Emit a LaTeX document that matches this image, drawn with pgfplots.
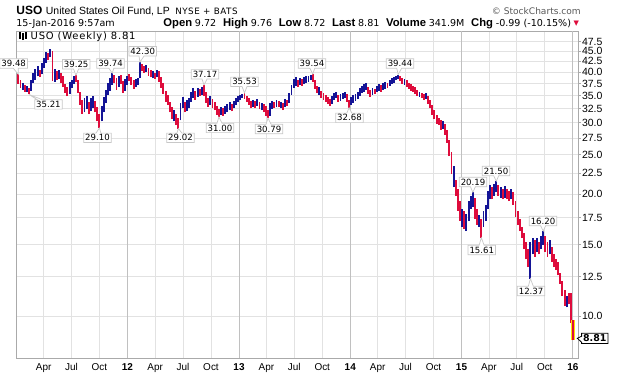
\documentclass[border=0pt]{standalone}
\usepackage{pgfplots}
\pgfplotsset{compat=1.18}
\usepackage{fontspec}
\setmainfont{Liberation Sans}
\newfontfamily\dv{DejaVu Sans}
\usetikzlibrary{shapes.callouts}
\definecolor{upc}{RGB}{20,20,150}
\definecolor{dnc}{RGB}{222,12,60}
\definecolor{gridl}{RGB}{226,226,226}
\definecolor{gridy}{RGB}{192,192,192}
\definecolor{framec}{RGB}{170,170,170}
\definecolor{boxc}{RGB}{200,200,200}
\begin{document}
\begin{tikzpicture}[x=1bp,y=1bp]
\begin{axis}[
  at={(16bp,18bp)}, anchor=south west,
  scale only axis, width=562bp, height=327bp,
  xmin=-0.1, xmax=263.3,
  ymode=log, ymin=7.88, ymax=50.5,
  unbounded coords=jump, clip=false,
  axis line style={framec, line width=0.8bp},
  xtick={12.86,25.86,39.0,65.14,78.14,91.29,117.29,130.29,143.43,169.43,182.43,195.57,221.57,234.57,247.71},
  xticklabels={Apr,Jul,Oct,Apr,Jul,Oct,Apr,Jul,Oct,Apr,Jul,Oct,Apr,Jul,Oct},
  extra x ticks={52.14,104.43,156.57,208.71,260.86},
  extra x tick labels={\textbf{12},\textbf{13},\textbf{14},\textbf{15},\textbf{16}},
  extra x tick style={grid style={gridy, line width=0.8bp}, xtick style={draw=none}},
  xtick style={draw=none},
  xmajorgrids, ymajorgrids,
  grid style={gridl, line width=0.8bp},
  xticklabel style={font=\fontsize{10}{12}\selectfont, yshift=-2bp},
  ytick={10,12.5,15,17.5,20,22.5,25,27.5,30,32.5,35,37.5,40,42.5,45,47.5},
  yticklabels={10.0,12.5,15.0,17.5,20.0,22.5,25.0,27.5,30.0,32.5,35.0,37.5,40.0,42.5,45.0,47.5},
  yminorticks=false,
  ytick pos=right, yticklabel pos=right,
  ytick style={framec, line width=0.6bp},
  ytick align=outside, major tick length=3bp,
  yticklabel style={font=\fontsize{10.5}{12}\selectfont, anchor=west, inner xsep=0.8bp},
]
% up weeks (blue)
\addplot[upc, line width=1.9bp, mark=none] coordinates {
(3,36.2)(3,37.6)(3,nan) (5,35.8)(5,37.0)(5,nan) (7,36.0)(7,38.2)(7,nan) (8,37.5)(8,39.8)(8,nan)
(9,38.2)(9,40.6)(9,nan) (10,39.0)(10,41.5)(10,nan) (12,39.5)(12,42.0)(12,nan) (13,41.0)(13,43.2)(13,nan)
(14,42.2)(14,44.8)(14,nan) (16,43.5)(16,45.6)(16,nan) (18,37.8)(18,40.8)(18,nan) (20,38.5)(20,40.5)(20,nan)
(25,35.4)(25,37.8)(25,nan) (26,36.6)(26,38.3)(26,nan) (27,37.4)(27,39.0)(27,nan) (32,31.8)(32,34.5)(32,nan)
(33,32.4)(33,34.9)(33,nan) (35,32.0)(35,34.6)(35,nan) (36,32.6)(36,35.0)(36,nan) (40,30.2)(40,33.0)(40,nan)
(41,31.8)(41,34.8)(41,nan) (42,33.5)(42,36.2)(42,nan) (43,35.2)(43,37.6)(43,nan) (44,36.0)(44,38.6)(44,nan)
(45,37.2)(45,39.74)(45,nan) (48,36.8)(48,39.0)(48,nan) (51,36.0)(51,38.4)(51,nan) (52,37.2)(52,39.0)(52,nan)
(56,36.8)(56,38.4)(56,nan) (57,37.2)(57,38.6)(57,nan) (58,38.6)(58,42.30)(58,nan) (61,40.0)(61,41.6)(61,nan)
(64,38.6)(64,40.2)(64,nan) (66,38.8)(66,40.5)(66,nan) (74,30.2)(74,32.2)(74,nan) (77,30.4)(77,33.6)(77,nan)
(78,32.6)(78,34.8)(78,nan) (80,32.0)(80,34.2)(80,nan) (81,32.6)(81,34.6)(81,nan) (82,33.8)(82,35.8)(82,nan)
(83,34.6)(83,36.5)(83,nan) (85,34.8)(85,36.6)(85,nan) (87,35.2)(87,36.8)(87,nan) (91,33.2)(91,35.0)(91,nan)
(96,31.4)(96,32.8)(96,nan) (98,31.6)(98,33.0)(98,nan) (99,31.8)(99,33.4)(99,nan) (100,32.2)(100,33.8)(100,nan)
(102,32.6)(102,34.0)(102,nan) (103,33.2)(103,34.6)(103,nan) (104,33.8)(104,35.0)(104,nan)
(105,34.2)(105,35.2)(105,nan) (106,34.6)(106,35.4)(106,nan) (111,32.8)(111,34.2)(111,nan) (113,33.0)(113,34.4)(113,nan)
(115,32.2)(115,33.6)(115,nan) (119,31.2)(119,33.6)(119,nan) (120,32.4)(120,34.0)(120,nan) (122,32.8)(122,34.2)(122,nan)
(124,32.6)(124,33.8)(124,nan) (126,32.8)(126,34.4)(126,nan) (128,33.6)(128,35.6)(128,nan) (129,35.2)(129,37.2)(129,nan)
(130,36.6)(130,38.4)(130,nan) (131,37.0)(131,38.8)(131,nan) (133,37.2)(133,38.6)(133,nan) (135,37.4)(135,38.8)(135,nan)
(136,37.6)(136,39.0)(136,nan) (137,37.8)(137,39.2)(137,nan) (138,38.2)(138,39.4)(138,nan) (142,35.2)(142,36.8)(142,nan)
(148,33.4)(148,35.0)(148,nan) (149,34.2)(149,35.6)(149,nan) (150,34.6)(150,35.8)(150,nan) (152,34.0)(152,35.4)(152,nan)
(153,34.4)(153,35.6)(153,nan) (154,34.6)(154,35.8)(154,nan)
(157,33.2)(157,34.8)(157,nan) (158,33.6)(158,35.2)(158,nan) (159,34.0)(159,35.4)(159,nan) (160,34.4)(160,35.8)(160,nan)
(161,35.0)(161,36.6)(161,nan) (162,35.6)(162,37.0)(162,nan) (163,35.8)(163,37.4)(163,nan) (164,36.2)(164,37.6)(164,nan)
(167,35.2)(167,36.6)(167,nan) (169,35.8)(169,37.0)(169,nan) (170,36.0)(170,37.4)(170,nan) (172,36.2)(172,37.6)(172,nan)
(173,36.4)(173,37.8)(173,nan) (175,37.0)(175,38.2)(175,nan) (176,37.4)(176,38.6)(176,nan) (177,37.6)(177,38.8)(177,nan)
(178,38.2)(178,39.2)(178,nan) (179,38.4)(179,39.44)(179,nan) (182,37.2)(182,38.4)(182,nan) (189,34.8)(189,35.8)(189,nan)
(192,34.4)(192,35.6)(192,nan) (200,29.0)(200,30.2)(200,nan) (205,20.8)(205,23.4)(205,nan)
(209,16.6)(209,18.4)(209,nan) (211,16.2)(211,17.9)(211,nan) (212,17.2)(212,19.2)(212,nan) (213,18.4)(213,19.8)(213,nan)
(214,18.6)(214,20.19)(214,nan) (217,16.6)(217,17.8)(217,nan) (219,16.6)(219,18.2)(219,nan) (220,17.2)(220,18.8)(220,nan)
(221,18.4)(221,20.4)(221,nan) (222,19.4)(222,21.0)(222,nan) (224,19.8)(224,21.2)(224,nan) (225,20.2)(225,21.50)(225,nan)
(227,19.6)(227,20.8)(227,nan) (229,19.6)(229,20.9)(229,nan) (232,19.4)(232,20.6)(232,nan) (241,12.37)(241,15.2)(241,nan)
(242,14.2)(242,15.6)(242,nan) (244,14.4)(244,15.6)(244,nan) (246,14.6)(246,15.8)(246,nan) (247,15.0)(247,16.20)(247,nan)
(250,14.2)(250,15.4)(250,nan) (258,10.5)(258,11.2)(258,nan)
};
% down weeks (red)
\addplot[dnc, line width=1.9bp, mark=none] coordinates {
(1,37.4)(1,39.48)(1,nan) (2,36.6)(2,38.3)(2,nan) (4,35.8)(4,37.2)(4,nan) (6,35.21)(6,36.6)(6,nan)
(11,38.8)(11,40.5)(11,nan) (15,42.8)(15,44.5)(15,nan) (17,38.0)(17,45.0)(17,nan) (19,38.2)(19,40.2)(19,nan)
(21,37.6)(21,39.8)(21,nan) (22,36.8)(22,39.0)(22,nan) (23,35.6)(23,37.4)(23,nan) (24,34.9)(24,36.8)(24,nan)
(28,37.8)(28,39.25)(28,nan) (29,35.5)(29,38.2)(29,nan) (30,33.2)(30,35.8)(30,nan) (31,31.6)(31,34.2)(31,nan)
(34,31.5)(34,33.8)(34,nan) (37,31.8)(37,34.0)(37,nan) (38,30.2)(38,32.8)(38,nan) (39,29.10)(39,31.6)(39,nan)
(46,37.6)(46,39.4)(46,nan) (47,36.2)(47,38.6)(47,nan) (49,37.4)(49,39.3)(49,nan) (50,35.6)(50,38.0)(50,nan)
(53,38.0)(53,39.5)(53,nan) (54,37.2)(54,38.8)(54,nan) (55,36.4)(55,38.2)(55,nan) (59,40.2)(59,41.9)(59,nan)
(60,39.8)(60,41.5)(60,nan) (62,39.2)(62,41.0)(62,nan) (63,38.8)(63,40.4)(63,nan) (65,38.5)(65,39.8)(65,nan)
(67,37.8)(67,40.2)(67,nan) (68,36.6)(68,38.8)(68,nan) (69,35.4)(69,37.6)(69,nan) (70,33.8)(70,36.0)(70,nan)
(71,33.2)(71,35.2)(71,nan) (72,31.8)(72,33.8)(72,nan) (73,30.6)(73,32.8)(73,nan) (75,29.6)(75,31.6)(75,nan)
(76,29.02)(76,30.8)(76,nan) (79,31.8)(79,33.8)(79,nan) (84,34.2)(84,36.0)(84,nan) (86,35.0)(86,36.4)(86,nan)
(88,35.0)(88,37.17)(88,nan) (89,33.6)(89,35.8)(89,nan) (90,32.8)(90,34.6)(90,nan) (92,32.6)(92,34.4)(92,nan)
(93,32.2)(93,33.8)(93,nan) (94,31.4)(94,33.0)(94,nan) (95,31.0)(95,32.4)(95,nan) (97,31.2)(97,32.6)(97,nan)
(101,32.0)(101,33.4)(101,nan)
(107,34.4)(107,35.53)(107,nan) (108,33.8)(108,35.0)(108,nan) (109,33.2)(109,34.6)(109,nan) (110,32.6)(110,34.0)(110,nan)
(112,32.6)(112,34.0)(112,nan) (114,32.4)(114,33.8)(114,nan) (116,31.8)(116,33.4)(116,nan) (117,31.2)(117,33.0)(117,nan)
(118,30.79)(118,32.2)(118,nan) (121,32.6)(121,33.8)(121,nan) (123,32.8)(123,34.0)(123,nan) (125,32.2)(125,33.6)(125,nan)
(127,33.0)(127,34.2)(127,nan) (132,36.8)(132,38.2)(132,nan) (134,37.0)(134,38.4)(134,nan) (139,37.8)(139,39.54)(139,nan)
(140,36.4)(140,38.2)(140,nan) (141,35.6)(141,37.0)(141,nan) (143,34.6)(143,36.0)(143,nan) (144,34.2)(144,35.6)(144,nan)
(145,33.8)(145,35.2)(145,nan) (146,33.4)(146,34.8)(146,nan) (147,33.0)(147,34.4)(147,nan) (151,33.8)(151,35.2)(151,nan)
(155,33.8)(155,35.4)(155,nan) (156,32.68)(156,34.2)(156,nan)
(165,35.4)(165,36.8)(165,nan) (166,34.8)(166,36.2)(166,nan) (168,35.4)(168,36.4)(168,nan) (171,35.8)(171,37.2)(171,nan)
(174,36.6)(174,37.6)(174,nan) (180,38.0)(180,39.2)(180,nan) (181,37.4)(181,38.6)(181,nan) (183,36.8)(183,38.2)(183,nan)
(184,36.4)(184,37.6)(184,nan) (185,36.0)(185,37.4)(185,nan) (186,35.8)(186,37.0)(186,nan) (187,35.4)(187,36.8)(187,nan)
(188,35.0)(188,36.2)(188,nan) (190,34.6)(190,35.6)(190,nan) (191,34.2)(191,35.4)(191,nan) (193,33.4)(193,35.0)(193,nan)
(194,32.6)(194,34.2)(194,nan) (195,31.4)(195,33.2)(195,nan) (196,30.6)(196,32.2)(196,nan) (197,29.8)(197,31.4)(197,nan)
(198,29.6)(198,30.8)(198,nan) (199,28.8)(199,30.4)(199,nan) (201,28.0)(201,29.8)(201,nan) (202,26.8)(202,28.8)(202,nan)
(203,24.8)(203,27.2)(203,nan) (204,22.4)(204,25.4)(204,nan) (206,19.8)(206,21.6)(206,nan) (207,18.2)(207,20.6)(207,nan)
(208,17.2)(208,19.2)(208,nan)
(210,16.4)(210,18.2)(210,nan) (215,17.4)(215,19.6)(215,nan) (216,16.8)(216,18.4)(216,nan) (218,15.61)(218,17.4)(218,nan)
(223,19.4)(223,20.8)(223,nan) (226,19.8)(226,21.0)(226,nan) (228,19.4)(228,20.6)(228,nan) (230,19.4)(230,20.6)(230,nan)
(231,19.2)(231,20.4)(231,nan) (233,18.8)(233,20.2)(233,nan) (234,17.6)(234,19.2)(234,nan) (235,16.8)(235,18.2)(235,nan)
(236,16.2)(236,17.4)(236,nan) (237,15.6)(237,16.6)(237,nan) (238,14.6)(238,16.0)(238,nan) (239,13.8)(239,15.2)(239,nan)
(240,13.2)(240,14.6)(240,nan) (243,14.0)(243,15.4)(243,nan) (245,14.2)(245,15.2)(245,nan) (248,14.4)(248,15.8)(248,nan)
(249,14.0)(249,15.2)(249,nan) (251,13.6)(251,14.8)(251,nan) (252,13.2)(252,14.2)(252,nan) (253,13.0)(253,13.8)(253,nan)
(254,12.6)(254,13.6)(254,nan) (255,12.0)(255,12.8)(255,nan) (256,11.2)(256,12.2)(256,nan) (257,10.6)(257,11.6)(257,nan)
(259,10.7)(259,11.4)(259,nan) (260,9.6)(260,11.4)(260,nan)
};
% last (current) week, highlighted
\addplot[yellow!85!orange, line width=3.8bp, mark=none] coordinates {(261,8.72)(261,9.76)};
\addplot[dnc, line width=1.7bp, mark=none] coordinates {(261,8.72)(261,9.76)};
% callouts
\tikzset{hl/.style={rectangle callout, draw=boxc, fill=white, line width=0.7bp,
   inner xsep=1.5bp, inner ysep=1.5bp, callout pointer width=5bp,
   font=\dv\fontsize{8.6}{10}\selectfont}}
\node[hl, callout absolute pointer={(axis cs:1,39.48)}] at (axis cs:-1.2,42.0) {39.48};
\node[hl, callout absolute pointer={(axis cs:6,35.21)}] at (axis cs:15.1,33.28) {35.21};
\node[hl, callout absolute pointer={(axis cs:28,39.25)}] at (axis cs:28.1,41.8) {39.25};
\node[hl, callout absolute pointer={(axis cs:39,29.10)}] at (axis cs:38.1,27.52) {29.10};
\node[hl, callout absolute pointer={(axis cs:45,39.74)}] at (axis cs:44.2,42.0) {39.74};
\node[hl, callout absolute pointer={(axis cs:58,42.30)}] at (axis cs:59.3,45.0) {42.30};
\node[hl, callout absolute pointer={(axis cs:76,29.02)}] at (axis cs:77.0,27.52) {29.02};
\node[hl, callout absolute pointer={(axis cs:88,37.17)}] at (axis cs:88.5,39.48) {37.17};
\node[hl, callout absolute pointer={(axis cs:95,31.00)}] at (axis cs:95.5,29.12) {31.00};
\node[hl, callout absolute pointer={(axis cs:107,35.53)}] at (axis cs:107,37.83) {35.53};
\node[hl, callout absolute pointer={(axis cs:118,30.79)}] at (axis cs:118.5,28.95) {30.79};
\node[hl, callout absolute pointer={(axis cs:139,39.54)}] at (axis cs:138.6,42.0) {39.54};
\node[hl, callout absolute pointer={(axis cs:156,32.68)}] at (axis cs:156.2,30.83) {32.68};
\node[hl, callout absolute pointer={(axis cs:179,39.44)}] at (axis cs:179.9,42.0) {39.44};
\node[hl, callout absolute pointer={(axis cs:214,20.19)}] at (axis cs:214.1,21.42) {20.19};
\node[hl, callout absolute pointer={(axis cs:225,21.50)}] at (axis cs:224.9,22.8) {21.50};
\node[hl, callout absolute pointer={(axis cs:218,15.61)}] at (axis cs:218.2,14.55) {15.61};
\node[hl, callout absolute pointer={(axis cs:247,16.20)}] at (axis cs:246.9,17.16) {16.20};
\node[hl, callout absolute pointer={(axis cs:241,12.37)}] at (axis cs:241.3,11.53) {12.37};
% last price tag
\node[rectangle callout, draw=black, fill=white, line width=0.8bp, inner xsep=1.5bp, inner ysep=1.5bp,
  callout pointer width=6bp, font=\dv\bfseries\fontsize{9.5}{10}\selectfont, anchor=west,
  callout absolute pointer={(axis cs:263.0,8.81)}] at (axis cs:264.8,8.81) {8.81};
% chart title inside
\node[anchor=base west, font=\dv\fontsize{10}{12}\selectfont\addfontfeature{LetterSpace=8}, inner sep=0pt] at (axis cs:6.7,48.2) {USO (Weekly) 8.81};
\end{axis}
% small chart-type icon
\draw[black, line width=1.1bp] (20,337) -- (20,344) (23,336) -- (23,343.5) (26,337.5) -- (26,344);
\draw[black, line width=0.8bp] (18.8,339) -- (20,339) (20,342) -- (21.2,342) (21.8,338.5) -- (23,338.5) (23,341) -- (24.2,341) (24.8,339.5) -- (26,339.5) (26,342.5) -- (27.2,342.5);
% header
\node[anchor=base west, inner sep=0pt] at (16.2,362) {\fontsize{12}{13}\selectfont\bfseries USO\hspace{3.6bp}\mdseries\fontsize{10.5}{12}\selectfont United States Oil Fund, LP\hspace{5.5bp}{\dv\fontsize{8.8}{10}\selectfont\addfontfeature{LetterSpace=6}NYSE + BATS}};
\node[anchor=base west, inner sep=0pt, font=\dv\fontsize{9.6}{11}\selectfont] at (16.2,349.3) {15-Jan-2016 9:57am};
\node[anchor=base east, inner sep=0pt] at (571.2,349.3) {\def\B#1{{\fontsize{11.3}{12}\selectfont\bfseries #1}}\def\N#1{{\dv\fontsize{9.6}{11}\selectfont #1}}%
  \B{Open} \N{9.72}\hspace{4bp} \B{High} \N{9.76}\hspace{4bp} \B{Low} \N{8.72}\hspace{4bp} \B{Last} \N{8.81}\hspace{4bp} \B{Volume} \N{341.9M}\hspace{4bp} \B{Chg} \N{-0.99 (-10.15\%)}};
\node[anchor=base west, inner sep=0pt, text=dnc, font=\dv\fontsize{7}{8}\selectfont] at (573.5,350.5) {▼};
\node[anchor=base east, inner sep=0pt, text=black!65, font=\dv\fontsize{9.1}{10}\selectfont] at (581,362) {© StockCharts.com};
\pgfresetboundingbox
\path[use as bounding box] (0,0) rectangle (620,376);
\end{tikzpicture}
\end{document}
